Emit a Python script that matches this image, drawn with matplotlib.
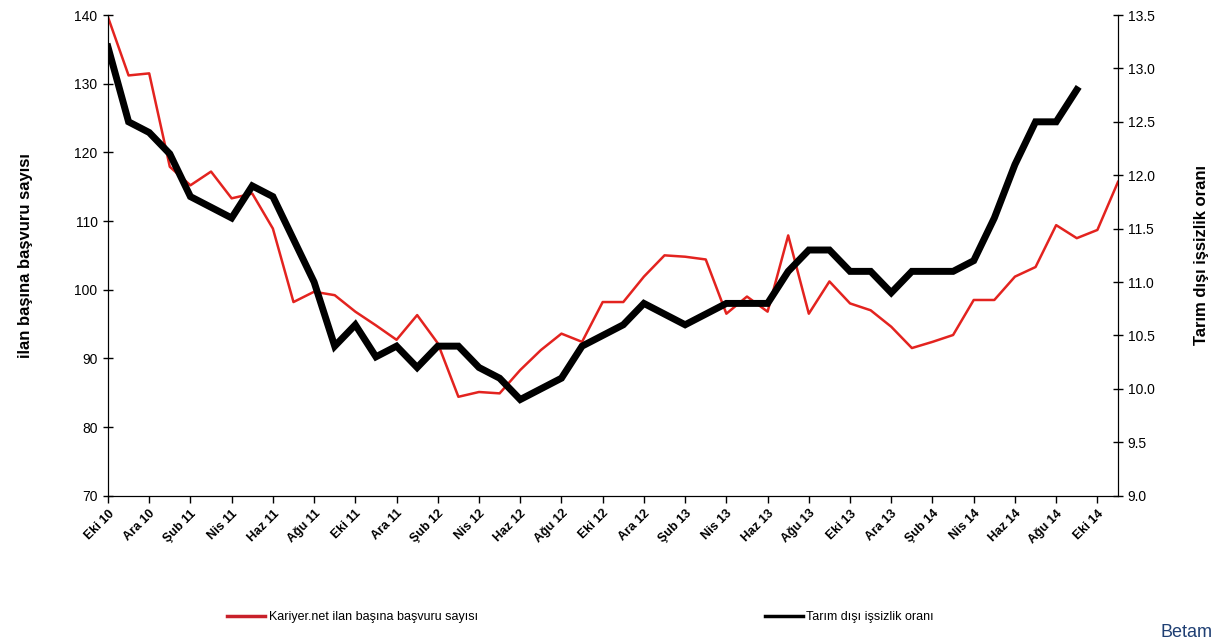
import matplotlib.pyplot as plt
from matplotlib.lines import Line2D

plt.rcParams['font.family'] = ['Liberation Sans', 'DejaVu Sans']

# monthly categories, Eki 10 .. Kas 14
months = ['Oca', 'Şub', 'Mar', 'Nis', 'May', 'Haz', 'Tem', 'Ağu', 'Eyl', 'Eki', 'Kas', 'Ara']
labels = []
for i in range(50):
    m = (9 + i) % 12
    y = 10 + (9 + i) // 12
    labels.append(f'{months[m]} {y}')

# Kariyer.net ilan basina basvuru sayisi (left axis)
basvuru = [139.7, 131.2, 131.5, 117.9, 115.2, 117.2, 113.3, 114.0, 108.9, 98.2,
           99.7, 99.2, 96.8, 94.8, 92.7, 96.3, 92.2, 84.4, 85.1, 84.9,
           88.3, 91.2, 93.6, 92.4, 98.2, 98.2, 101.9, 105.0, 104.8, 104.4,
           96.5, 99.0, 96.8, 107.9, 96.5, 101.2, 98.0, 97.0, 94.6, 91.5,
           92.4, 93.4, 98.5, 98.5, 101.9, 103.3, 109.4, 107.5, 108.7, 115.7]

# Tarim disi issizlik orani (right axis), ends Eyl 14
issizlik = [13.2, 12.5, 12.4, 12.2, 11.8, 11.7, 11.6, 11.9, 11.8, 11.4,
            11.0, 10.4, 10.6, 10.3, 10.4, 10.2, 10.4, 10.4, 10.2, 10.1,
            9.9, 10.0, 10.1, 10.4, 10.5, 10.6, 10.8, 10.7, 10.6, 10.7,
            10.8, 10.8, 10.8, 11.1, 11.3, 11.3, 11.1, 11.1, 10.9, 11.1,
            11.1, 11.1, 11.2, 11.6, 12.1, 12.5, 12.5, 12.8]

fig = plt.figure(figsize=(12.2, 6.44), dpi=100)
ax = fig.add_axes([0.0885, 0.2303, 0.8279, 0.7464])
ax2 = ax.twinx()

ax.plot(range(len(basvuru)), basvuru, color='#e3231f', lw=1.8)
ax2.plot(range(len(issizlik)), issizlik, color='black', lw=5, solid_joinstyle='miter')

ax.set_xlim(0, 49)
ax.set_ylim(70, 140)
ax.set_yticks(range(70, 141, 10))
ax2.set_ylim(9.0, 13.5)
ax2.set_yticks([9.0 + 0.5 * k for k in range(10)])
ax2.set_yticklabels([f'{9.0 + 0.5 * k:.1f}' for k in range(10)])

ax.set_xticks(range(0, 49, 2))
ax.set_xticklabels(labels[0:49:2], rotation=45, ha='right', rotation_mode='anchor',
                   fontsize=9, fontweight='bold')

for a in (ax, ax2):
    a.spines['top'].set_visible(False)
    a.tick_params(axis='y', direction='inout', length=7, width=1, labelsize=10)
ax.tick_params(axis='x', direction='out', length=5, width=1)
ax.tick_params(axis='y', pad=4)

ax.set_ylabel('ilan başına başvuru sayısı', fontsize=12, fontweight='bold', labelpad=30)
ax2.set_ylabel('Tarım dışı işsizlik oranı', fontsize=12, fontweight='bold', labelpad=28)

handles = [Line2D([], [], color='#c8202a', lw=2.5),
           Line2D([], [], color='black', lw=2.5)]
fig.legend(handles, ['Kariyer.net ilan başına başvuru sayısı', 'Tarım dışı işsizlik oranı'],
           loc='center', bbox_to_anchor=(0.476, 0.042), ncol=2,
           frameon=False, fontsize=9, handlelength=3, handletextpad=0.3,
           columnspacing=23)

fig.text(0.951, 0.005, 'Betam', fontsize=13, color='#1f3f73', ha='left', va='bottom')

fig.savefig('out.png', dpi=100)
plt.close()
